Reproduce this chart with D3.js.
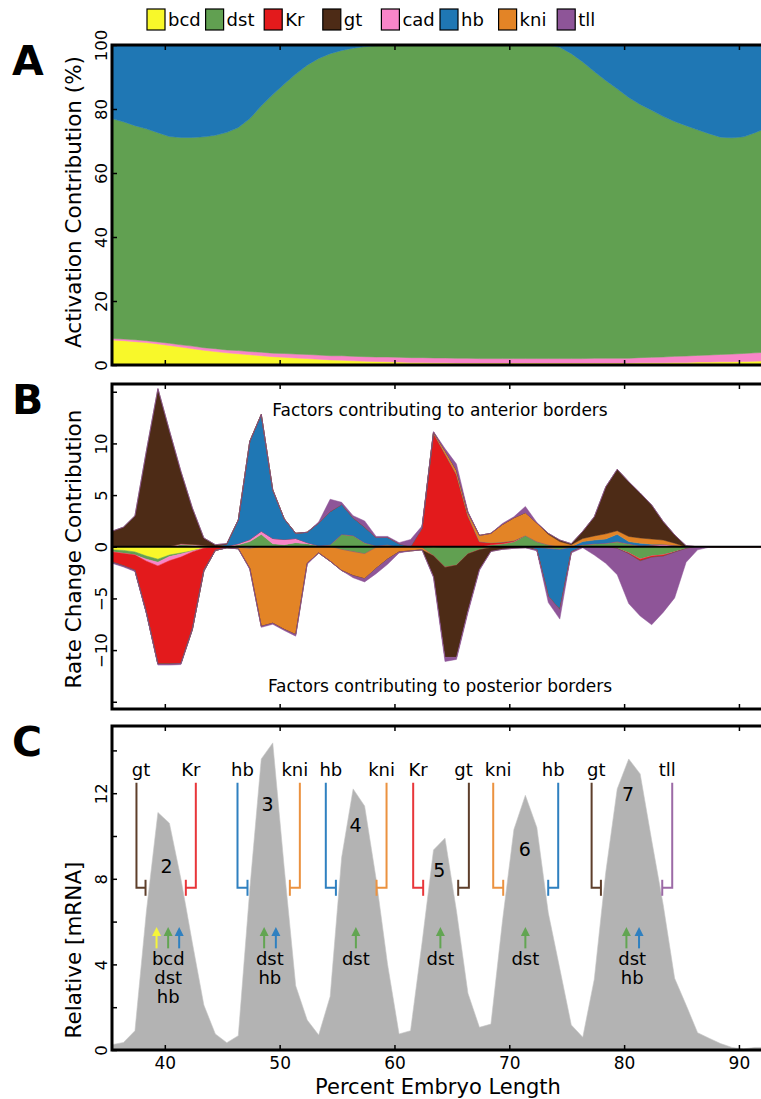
<!DOCTYPE html>
<html>
<head>
<meta charset="utf-8">
<script src="https://cdn.jsdelivr.net/npm/d3@7"></script>
<style>
  body { margin: 0; background: #fff; }
  svg { display: block; }
</style>
</head>
<body>
<div id="chart"></div>
<script>
// positions along the embryo (% embryo length)
const xs = [35.4, 36.4, 37.4, 38.4, 39.4, 40.4, 41.4, 42.4, 43.4, 44.4,
  45.4, 46.4, 47.4, 48.4, 49.4, 50.4, 51.4, 52.4, 53.4, 54.4,
  55.4, 56.4, 57.4, 58.4, 59.4, 60.4, 61.4, 62.4, 63.4, 64.4,
  65.4, 66.4, 67.4, 68.4, 69.4, 70.4, 71.4, 72.4, 73.4, 74.4,
  75.4, 76.4, 77.4, 78.4, 79.4, 80.4, 81.4, 82.4, 83.4, 84.4,
  85.4, 86.4, 87.4, 88.4, 89.4, 90.4, 91.4, 92.4];

// Panel A: activation contribution (%)
const bcdPct = [7.8, 7.6, 7.3, 7.0, 6.6, 6.1, 5.6, 5.1, 4.6, 4.2,
  3.8, 3.5, 3.2, 2.9, 2.6, 2.4, 2.2, 2.0, 1.8, 1.6,
  1.5, 1.3, 1.2, 1.1, 1.0, 0.9, 0.8, 0.8, 0.7, 0.7,
  0.6, 0.6, 0.6, 0.6, 0.6, 0.6, 0.6, 0.6, 0.6, 0.6,
  0.6, 0.6, 0.6, 0.6, 0.6, 0.6, 0.7, 0.7, 0.7, 0.8,
  0.8, 0.9, 0.9, 1.0, 1.0, 1.1, 1.2, 1.3];
const cadPct = [0.5, 0.5, 0.6, 0.6, 0.6, 0.7, 0.7, 0.8, 0.8, 0.9,
  0.9, 1.0, 1.0, 1.1, 1.1, 1.2, 1.2, 1.3, 1.3, 1.3,
  1.4, 1.4, 1.4, 1.4, 1.5, 1.5, 1.5, 1.5, 1.5, 1.5,
  1.5, 1.5, 1.4, 1.4, 1.4, 1.4, 1.4, 1.4, 1.4, 1.4,
  1.4, 1.4, 1.5, 1.5, 1.5, 1.5, 1.6, 1.7, 1.8, 1.9,
  2.0, 2.1, 2.2, 2.3, 2.4, 2.5, 2.6, 2.7];
const dstPct = [68.7, 67.9, 66.9, 66.2, 65.4, 64.6, 64.8, 65.2, 65.9, 66.7,
  68.0, 69.7, 72.8, 77.0, 80.8, 84.2, 87.5, 90.4, 92.7, 94.4,
  95.4, 96.3, 96.9, 97.3, 97.5, 97.6, 97.7, 97.7, 97.8, 97.8,
  97.9, 97.9, 98.0, 98.0, 98.0, 98.0, 98.0, 98.0, 98.0, 97.3,
  95.3, 92.7, 89.6, 86.8, 84.2, 81.5, 79.1, 77.2, 75.2, 73.4,
  72.0, 70.5, 69.2, 67.9, 67.6, 67.7, 68.8, 70.0];
const hbPct = [23.0, 24.0, 25.2, 26.2, 27.4, 28.6, 28.9, 28.9, 28.7, 28.2,
  27.3, 25.8, 23.0, 19.0, 15.5, 12.2, 9.1, 6.3, 4.2, 2.7,
  1.7, 1.0, 0.5, 0.2, 0, 0, 0, 0, 0, 0,
  0, 0, 0, 0, 0, 0, 0, 0, 0, 0.7,
  2.7, 5.3, 8.3, 11.1, 13.7, 16.4, 18.6, 20.4, 22.3, 23.9,
  25.2, 26.5, 27.7, 28.8, 29.0, 28.7, 27.4, 26.0];

// Panel B: rate change contribution, anterior (up) and posterior (down) parts
const bcdUp = [0, 0, 0, 0, 0, 0, 0, 0, 0, 0,  0, 0, 0, 0, 0, 0, 0, 0, 0, 0,
  0, 0, 0, 0, 0, 0, 0, 0, 0, 0,  0, 0, 0, 0, 0, 0, 0, 0, 0, 0,
  0, 0, 0, 0, 0, 0, 0, 0, 0, 0,  0, 0, 0, 0, 0, 0, 0, 0];
const bcdDn = [-0.3, -0.35, -0.5, -0.9, -1.2, -0.8, -0.6, -0.4, -0.15, -0.05,
  0, 0, 0, 0, 0, 0, 0, 0, 0, 0,  0, 0, 0, 0, 0, 0, 0, 0, -0.1, 0,
  0, 0, 0, 0, 0, 0, 0, 0, 0, 0,  0, 0, 0, 0, 0, 0, 0, 0, 0, 0,  0, 0, 0, 0, 0, 0, 0, 0];
const dstUp = [0, 0, 0, 0, 0, 0, 0.2, 0.15, 0.1, 0.05,
  0, 0.2, 0.5, 1.2, 0.3, 0.2, 0.4, 0.3, 0.1, 0.2,
  1.2, 1.1, 0.4, 0.1, 0.2, 0, 0, 0, 0, 0,
  0, 0, 0, 0.2, 0.3, 0.5, 1.1, 0.5, 0.2, 0,
  0, 0.2, 0.3, 0.35, 0.5, 0.3, 0.1, 0, 0, 0,
  0, 0, 0, 0, 0, 0, 0, 0];
const dstDn = [-0.2, -0.3, -0.3, -0.3, -0.3, -0.15, -0.1, 0, 0, 0,
  0, 0, -0.1, 0, -0.1, 0, 0, 0, 0, 0,
  -0.3, -0.5, -0.7, -0.1, 0, 0, 0, -0.1, -0.8, -2.0,
  -1.8, -0.7, -0.3, -0.1, 0, 0, 0, -0.1, -0.2, -0.3,
  -0.1, 0, 0, 0, -0.2, -0.6, -1.2, -0.9, -0.8, -0.5,
  -0.2, 0, 0, 0, 0, 0, 0, 0];
const cadUp = [0, 0, 0, 0, 0, 0.05, 0.1, 0.1, 0.05, 0,
  0.05, 0.1, 0.2, 0.3, 0.5, 0.5, 0.4, 0.1, 0, 0,
  0, 0, 0, 0, 0, 0, 0, 0, 0, 0,  0, 0, 0, 0, 0, 0, 0, 0, 0, 0,
  0, 0, 0, 0, 0, 0, 0, 0.15, 0.25, 0.15,  0, 0, 0, 0, 0, 0, 0, 0];
const cadDn = [0, 0, 0, -0.2, -0.35, -0.4, -0.3, -0.1, 0, 0,
  0, -0.1, -0.1, 0, 0, 0, 0, 0, 0, 0,
  0, 0, 0, 0, 0, 0, 0, 0, 0, 0,  0, 0, 0, 0, 0, 0, 0, 0, 0, 0,
  0, 0, 0, 0, 0, 0, 0, 0, 0, 0,  0, 0, 0, 0, 0, 0, 0, 0];
const KrUp = [0, 0, 0, 0, 0, 0, 0, 0, 0, 0,  0, 0, 0, 0, 0, 0, 0, 0, 0, 0,
  0, 0, 0, 0, 0, 0, 0, 1.8, 11.0, 9.0,
  7.0, 3.0, 0.5, 0.2, 0.15, 0.1, 0, 0, 0, 0,
  0, 0, 0, 0, 0, 0, 0, 0, 0, 0,  0, 0, 0, 0, 0, 0, 0, 0];
const KrDn = [-1.0, -1.2, -1.5, -5.0, -9.5, -10.0, -10.3, -7.4, -2.1, -0.3,
  -0.1, 0, 0, 0, 0, 0, 0, 0, 0, 0,  0, 0, 0, 0, 0, 0, 0, 0, 0, 0,
  0, 0, 0, 0, 0, 0, 0, 0, 0, 0,
  0, 0, 0, 0, 0, -0.1, -0.2, -0.15, -0.15, -0.05,
  0, 0, 0, 0, 0, 0, 0, 0];
const hbUp = [0, 0, 0, 0, 0, 0, 0, 0, 0, 0,
  0.2, 2.3, 9.5, 11.3, 4.7, 2.0, 0.5, 1.0, 2.2, 3.2,
  2.9, 1.7, 1.5, 0.8, 0.7, 0.3, 0, 0, 0, 0,
  0, 0, 0, 0, 0, 0, 0, 0, 0, 0,
  0, 0.3, 0.35, 0.4, 0.7, 0.2, 0.25, 0.1, 0, 0,
  0, 0, 0, 0, 0, 0, 0, 0];
const hbDn = [0, 0, 0, 0, 0, 0, 0, -0.1, -0.1, 0,
  0, 0, 0, 0, 0, 0, 0, 0, 0, 0,  0, 0, 0, 0, 0, 0, 0, 0, 0, 0,
  0, 0, 0, 0, 0, 0, 0, -0.2, -4.6, -5.8,
  -0.4, 0, 0, 0, 0, 0, 0, 0, 0, 0,  0, 0, 0, 0, 0, 0, 0, 0];
const kniUp = [0, 0, 0, 0, 0, 0, 0, 0, 0, 0,  0, 0, 0, 0, 0, 0, 0, 0, 0, 0,
  0, 0, 0, 0, 0, 0, 0, 0, 0.1, 0.3,
  0.4, 0.3, 0.6, 0.9, 1.7, 2.2, 2.2, 1.8, 1.0, 0.5,
  0.2, 0.3, 0.4, 0.5, 0.35, 0.5, 0.5, 0.5, 0.4, 0.2,
  0, 0, 0, 0, 0, 0, 0, 0];
const kniDn = [0, 0, 0, 0, 0, 0, 0, 0, 0, 0,
  0, -0.1, -1.9, -7.7, -7.3, -8.0, -8.5, -1.6, -0.6, -1.4,
  -2.0, -2.3, -2.4, -2.0, -1.2, -0.5, -0.4, -0.2, 0, 0,
  0, 0, 0, 0, 0, 0, 0, 0, 0, 0,  0, 0, 0, 0, 0, 0, 0, 0, 0, 0,  0, 0, 0, 0, 0, 0, 0, 0];
const gtUp = [1.5, 1.9, 3.0, 9.3, 15.3, 11.2, 7.0, 3.5, 0.7, 0.15,
  0.05, 0, 0, 0, 0, 0, 0, 0, 0, 0,  0, 0, 0, 0, 0, 0, 0, 0, 0, 0,
  0, 0, 0, 0, 0, 0, 0, 0, 0.1, 0.15,
  0.1, 0.7, 1.85, 4.55, 5.95, 5.3, 4.35, 3.3, 1.8, 0.8,
  0.1, 0, 0, 0, 0, 0, 0, 0];
const gtDn = [0, 0, 0, 0, 0, 0, 0, 0, 0, 0,  0, 0, 0, 0, 0, 0, 0, 0, 0, 0,
  0, 0, 0, 0, 0, 0, 0, 0, -2.0, -8.7,
  -8.9, -5.5, -1.9, -0.35, -0.25, -0.15, -0.1, 0, 0, 0,
  0, 0, 0, 0, 0, 0, 0, 0, 0, 0,  0, 0, 0, 0, 0, 0, 0, 0];
const tllUp = [0, 0, 0, 0, 0, 0, 0, 0, 0, 0,
  0, 0, 0, 0, 0, 0, 0, 0, 0.1, 1.2,
  0.2, 0.2, 0.6, 0.1, 0.1, 0.1, 0.7, 0.2, 0.05, 0.2,
  0.6, 0.1, 0, 0, 0.1, 0.1, 0.6, 0.05, 0, 0,
  0, 0, 0, 0, 0, 0, 0, 0, 0, 0,  0, 0, 0, 0, 0, 0, 0, 0];
const tllDn = [-0.1, -0.1, -0.1, -0.1, -0.1, -0.1, -0.1, 0, 0, 0,
  0, 0, -0.1, -0.1, -0.1, -0.1, -0.15, -0.1, 0, 0,
  0, -0.2, -0.3, -0.5, -0.5, -0.1, 0, 0, -0.1, -0.4,
  -0.2, -0.2, -0.1, 0, 0, 0, 0, -0.1, -0.6, -0.9,
  -0.1, -0.1, -0.8, -1.6, -2.5, -4.8, -5.3, -6.5, -5.4, -4.4,
  -1.3, -0.3, -0.05, 0, 0, 0, 0, 0];

// Panel C: relative eve mRNA
const rna = [0.25, 0.35, 0.9, 6.5, 11.1, 10.6, 8.0, 5.0, 2.1, 0.75,
  0.34, 0.67, 7.5, 13.6, 14.35, 8.5, 3.0, 1.4, 0.7, 2.5,
  9.0, 12.2, 11.4, 8.0, 4.0, 0.75, 0.9, 5.0, 9.35, 9.9,
  6.5, 2.65, 1.06, 1.21, 6.0, 10.3, 11.9, 10.4, 6.4, 3.8,
  1.17, 0.6, 3.3, 8.3, 12.2, 13.6, 12.9, 9.8, 6.8, 3.35,
  2.1, 0.81, 0.55, 0.3, 0.12, 0.05, 0.12, 0.12];

// Panel C annotations
const repLabels = ["gt", "Kr", "hb", "kni", "hb", "kni", "Kr", "gt", "kni", "hb", "gt", "tll"];
const repStemX = [37.53, 42.7, 46.33, 51.76, 54.02, 59.31, 61.63, 66.48, 68.6, 74.26, 77.17, 84.19];
const repEndX = [38.32, 41.83, 47.2, 50.89, 54.9, 58.44, 62.5, 65.55, 69.47, 73.39, 77.98, 83.32];
const stripeNames = ["2", "3", "4", "5", "6", "7"];
const stripeX = [40.15, 48.95, 56.6, 63.9, 71.35, 80.35];
const stripeY = [8.6, 11.5, 10.5, 8.4, 9.4, 11.95];
const actFactors = [["bcd", "dst", "hb"], ["dst", "hb"], ["dst"], ["dst"], ["dst"], ["dst", "hb"]];
const actArrowX = [[39.28, 40.29, 41.25], [48.65, 49.67], [56.64], [64.0], [71.4], [80.2, 81.3]];
const actLabelX = [40.3, 49.15, 56.64, 64.0, 71.4, 80.7];

const legendKeys = ["bcd", "dst", "Kr", "gt", "cad", "hb", "kni", "tll"];
const stackKeysB = ["bcd", "dst", "cad", "Kr", "hb", "kni", "gt", "tll"];

const fill = {
  bcd: "#f8f82a", dst: "#61a051", Kr: "#e31a1c", gt: "#4d2b16",
  cad: "#f985c8", hb: "#1f77b4", kni: "#e38426", tll: "#8e5598"
};
const lineColor = {
  bcd: "#f5f53a", dst: "#62a552", Kr: "#e8363a", gt: "#5e3f2b",
  hb: "#2f80c0", kni: "#eb9240", tll: "#9c6aa6"
};

const svg = d3.select("#chart").append("svg")
  .attr("width", 761)
  .attr("height", 1099)
  .style("font-family", "'DejaVu Sans', sans-serif");

const left = 112, right = 765;
const x = d3.scaleLinear().domain([35.4, 92.27]).range([left, right]);
const yA = d3.scaleLinear().domain([0, 100]).range([365, 45]);
const yB = d3.scaleLinear().domain([-15.7, 15.75]).range([709, 384]);
const yC = d3.scaleLinear().domain([0, 15.14]).range([1050, 726]);

function clip(id, y) {
  svg.append("clipPath").attr("id", id).append("rect")
    .attr("x", left).attr("y", y.range()[1])
    .attr("width", right - left).attr("height", y.range()[0] - y.range()[1]);
}
clip("clipA", yA); clip("clipB", yB); clip("clipC", yC);

// ---- Panel A: stacked percentages
const rowsA = xs.map((v, i) => ({ x: v, bcd: bcdPct[i], cad: cadPct[i], dst: dstPct[i], hb: hbPct[i] }));
const stackA = d3.stack().keys(["bcd", "cad", "dst", "hb"])(rowsA);
const areaA = d3.area().x(d => x(d.data.x)).y0(d => yA(d[0])).y1(d => yA(d[1]));
svg.append("g").attr("clip-path", "url(#clipA)")
  .selectAll("path").data(stackA).join("path")
  .attr("d", areaA)
  .attr("fill", d => fill[d.key])
  .attr("stroke", d => fill[d.key]).attr("stroke-width", 0.5);

// ---- Panel B: diverging stacks
const up = { bcd: bcdUp, dst: dstUp, cad: cadUp, Kr: KrUp, hb: hbUp, kni: kniUp, gt: gtUp, tll: tllUp };
const dn = { bcd: bcdDn, dst: dstDn, cad: cadDn, Kr: KrDn, hb: hbDn, kni: kniDn, gt: gtDn, tll: tllDn };
const rowsUp = xs.map((v, i) => { const r = { x: v }; stackKeysB.forEach(k => r[k] = up[k][i]); return r; });
const rowsDn = xs.map((v, i) => { const r = { x: v }; stackKeysB.forEach(k => r[k] = dn[k][i]); return r; });
const stackB = d3.stack().keys(stackKeysB);
const areaB = d3.area().x(d => x(d.data.x)).y0(d => yB(d[0])).y1(d => yB(d[1]));
const gB = svg.append("g").attr("clip-path", "url(#clipB)");
[stackB(rowsUp), stackB(rowsDn)].forEach(layers => {
  gB.append("g").selectAll("path").data(layers).join("path")
    .attr("d", areaB)
    .attr("fill", d => fill[d.key])
    .attr("stroke", d => fill[d.key]).attr("stroke-width", 0.5);
});
gB.append("line")
  .attr("x1", left).attr("x2", right)
  .attr("y1", yB(0)).attr("y2", yB(0))
  .attr("stroke", "#000").attr("stroke-width", 2.2);

svg.append("text").attr("x", 440).attr("y", 416).attr("text-anchor", "middle")
  .style("font-size", "17px").text("Factors contributing to anterior borders");
svg.append("text").attr("x", 440).attr("y", 692).attr("text-anchor", "middle")
  .style("font-size", "17px").text("Factors contributing to posterior borders");

// ---- Panel C: mRNA and annotations
const areaC = d3.area().x((d, i) => x(xs[i])).y0(yC(0)).y1(d => yC(d));
svg.append("g").attr("clip-path", "url(#clipC)")
  .append("path").datum(rna)
  .attr("d", areaC)
  .attr("fill", "#b3b3b3")
  .attr("stroke", "#c4c4c4").attr("stroke-width", 0.6);

const ann = svg.append("g");
const stemTop = 12.49, stemBottom = 7.58, labelBase = 12.8;
repLabels.forEach((name, i) => {
  const c = lineColor[name];
  const xs0 = x(repStemX[i]), xe = x(repEndX[i]), yb = yC(stemBottom);
  ann.append("path")
    .attr("d", `M${xs0},${yC(stemTop)}V${yb}H${xe}`)
    .attr("fill", "none").attr("stroke", c).attr("stroke-width", 2);
  ann.append("line")
    .attr("x1", xe).attr("x2", xe)
    .attr("y1", yb - 8).attr("y2", yb + 8)
    .attr("stroke", c).attr("stroke-width", 2);
  ann.append("text")
    .attr("x", (xs0 + xe) / 2).attr("y", yC(labelBase))
    .attr("text-anchor", "middle").style("font-size", "18px")
    .text(name);
});

stripeNames.forEach((s, i) => {
  ann.append("text")
    .attr("x", x(stripeX[i])).attr("y", yC(stripeY[i]))
    .attr("text-anchor", "middle").attr("dy", "0.36em")
    .style("font-size", "19px").text(s);
});

const arrowBase = 4.75, arrowTip = 5.7;
actFactors.forEach((facs, i) => {
  facs.forEach((f, j) => {
    const ax = x(actArrowX[i][j]), y0 = yC(arrowBase), y1 = yC(arrowTip);
    ann.append("line")
      .attr("x1", ax).attr("x2", ax).attr("y1", y0).attr("y2", y1 + 6)
      .attr("stroke", lineColor[f]).attr("stroke-width", 2);
    ann.append("path")
      .attr("d", `M${ax - 4.5},${y1 + 8}L${ax},${y1 - 1}L${ax + 4.5},${y1 + 8}Z`)
      .attr("fill", lineColor[f]);
  });
  facs.forEach((f, j) => {
    ann.append("text")
      .attr("x", x(actLabelX[i])).attr("y", 965 + j * 19)
      .attr("text-anchor", "middle").style("font-size", "18px")
      .text(f);
  });
});

// ---- Frames and axes
const xTicks = [40, 50, 60, 70, 80, 90];
function styleAxis(g) {
  g.attr("font-family", null).attr("font-size", null);
  g.select(".domain").remove();
  g.selectAll(".tick line").attr("stroke", "#000").attr("stroke-width", 1.5);
}
function frame(y, yTicks, yFmt, showX) {
  const top = y.range()[1], bottom = y.range()[0];
  const gt = svg.append("g").attr("transform", `translate(0,${top})`)
    .call(d3.axisTop(x).tickValues(xTicks).tickSize(-5).tickFormat(""));
  styleAxis(gt);
  const gb = svg.append("g").attr("transform", `translate(0,${bottom})`)
    .call(d3.axisBottom(x).tickValues(xTicks).tickSize(-5).tickPadding(7)
      .tickFormat(showX ? d3.format("d") : ""));
  styleAxis(gb);
  gb.selectAll(".tick text").style("font-size", "17px").attr("fill", "#000");
  const gl = svg.append("g").attr("transform", `translate(${left},0)`)
    .call(d3.axisLeft(y).tickValues(yTicks).tickSize(-5).tickFormat(yFmt));
  styleAxis(gl);
  gl.selectAll(".tick text")
    .attr("x", null).attr("dy", null).attr("fill", "#000")
    .attr("text-anchor", "middle")
    .attr("transform", "translate(-5,0) rotate(-90)")
    .style("font-size", "16.5px");
  svg.append("rect")
    .attr("x", left).attr("y", top)
    .attr("width", right - left).attr("height", bottom - top)
    .attr("fill", "none").attr("stroke", "#000").attr("stroke-width", 3);
}
frame(yA, [0, 20, 40, 60, 80, 100], d => d, false);
frame(yB, [-15, -10, -5, 0, 5, 10, 15], d => Math.abs(d) === 15 ? "" : (d < 0 ? "\u2212" + (-d) : d), false);
frame(yC, [0, 2, 4, 6, 8, 10, 12, 14], d => d % 4 === 0 ? d : "", true);

// axis titles
function yTitle(text, cy) {
  svg.append("text")
    .attr("transform", `translate(81,${cy}) rotate(-90)`)
    .attr("text-anchor", "middle").style("font-size", "21.5px")
    .text(text);
}
yTitle("Activation Contribution (%)", 202);
yTitle("Rate Change Contribution", 549);
yTitle("Relative [mRNA]", 950);
svg.append("text").attr("x", 438).attr("y", 1094).attr("text-anchor", "middle")
  .style("font-size", "21px").text("Percent Embryo Length");

// panel letters
[["A", 75], ["B", 414], ["C", 756]].forEach(([t, yy]) => {
  svg.append("text").attr("x", 12).attr("y", yy)
    .style("font-size", "41px").style("font-weight", "bold").text(t);
});

// legend
const legend = svg.append("g");
legendKeys.forEach((k, i) => {
  const lx = 147 + i * 58.6;
  legend.append("rect")
    .attr("x", lx).attr("y", 9).attr("width", 18).attr("height", 21)
    .attr("fill", fill[k]).attr("stroke", "#000").attr("stroke-width", 1.2);
  const t = legend.append("text")
    .attr("x", lx + 21).attr("y", 0)
    .style("font-size", "18px").text(k);
  const bb = t.node().getBBox();
  t.attr("y", 19.5 - (bb.y + bb.height / 2));
});
</script>
</body>
</html>
